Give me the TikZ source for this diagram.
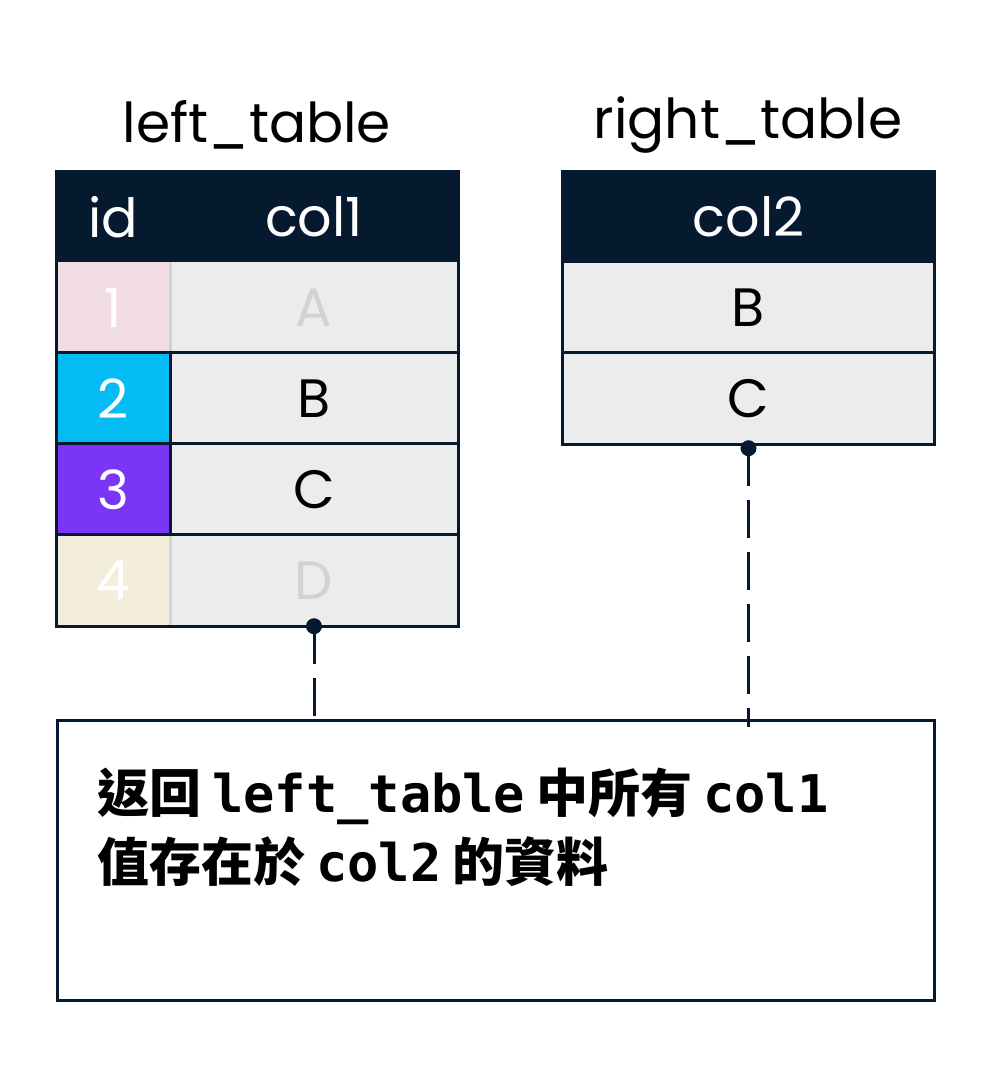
\documentclass[tikz,border=0pt]{standalone}
\usepackage{fontspec}
\setmainfont{Poppins}
\newfontfamily\cjk{Noto Sans CJK TC}
\newfontfamily\code{DejaVu Sans Mono}
\definecolor{navy}{HTML}{051A2E}
\definecolor{cellgray}{HTML}{ECECEC}
\definecolor{pinkfade}{HTML}{F2DDE4}
\definecolor{beigefade}{HTML}{F3EDDC}
\definecolor{idcyan}{HTML}{03BCF4}
\definecolor{idpurple}{HTML}{7B35F7}
\definecolor{fadetext}{HTML}{D2D2D2}

\begin{document}
\begin{tikzpicture}[x=1pt,y=-1pt,
  title/.style={font=\fontsize{55}{66}\selectfont},
  head/.style={fill=navy,text=white,inner sep=0pt,minimum height=91pt,font=\fontsize{54}{64}\selectfont},
  cell/.style={fill=cellgray,inner sep=0pt,minimum height=91pt,font=\fontsize{54}{64}\selectfont},
  tabline/.style={draw=navy,line width=3pt},
  faintline/.style={draw=fadetext,line width=3pt},
  link/.style={draw=navy,line width=3pt,dash pattern=on 38pt off 14pt}]
\useasboundingbox[fill=white] (0,0) rectangle (992,1080);

% titles
\node[title] (ltitle) at (257,125) {left\_table};
\node[title] (rtitle) at (748,125) {right\_table};

% left table
\node[head,minimum width=113pt] (lid) at (113.5,217) {id};
\node[head,minimum width=288pt] (lcol) at (314,217) {col1};
\node[cell,fill=pinkfade,text=white,minimum width=113pt] (id1) at (113.5,307.5) {1};
\node[cell,text=fadetext,minimum width=288pt] (c1) at (314,307.5) {A};
\node[cell,fill=idcyan,text=white,minimum width=113pt] (id2) at (113.5,398.5) {2};
\node[cell,minimum width=288pt] (c2) at (314,398.5) {B};
\node[cell,fill=idpurple,text=white,minimum width=113pt] (id3) at (113.5,489.5) {3};
\node[cell,minimum width=288pt] (c3) at (314,489.5) {C};
\node[cell,fill=beigefade,text=white,minimum width=113pt] (id4) at (113.5,580.5) {4};
\node[cell,text=fadetext,minimum width=288pt] (c4) at (314,580.5) {D};

\draw[faintline] (id1.north east) -- (id1.south east);
\draw[faintline] (id4.north east) -- (id4.south east);
\draw[tabline] (id2.north east) -- (id3.south east);
\draw[tabline] (id2.north west) -- (c2.north east);
\draw[tabline] (id3.north west) -- (c3.north east);
\draw[tabline] (id4.north west) -- (c4.north east);
\draw[tabline] (lid.north west) rectangle (c4.south east);

% right table
\node[head,minimum width=371pt] (rcol) at (748.5,217) {col2};
\node[cell,minimum width=371pt] (r1) at (748.5,307.5) {B};
\node[cell,minimum width=371pt] (r2) at (748.5,398.5) {C};
\draw[tabline] (r1.north west) -- (r1.north east);
\draw[tabline] (r2.north west) -- (r2.north east);
\draw[tabline] (rcol.north west) rectangle (r2.south east);

% result box
\node[draw=navy,line width=3pt,minimum width=877pt,minimum height=280pt] (note) at (495.5,860) {};
\node[anchor=north west,align=left,inner sep=0pt,font=\fontsize{52}{69}\selectfont\bfseries] (msg) at (97,768)
  {{\cjk 返回} {\code left\_table} {\cjk 中所有} {\code col1}\\
   {\cjk 值存在於} {\code col2} {\cjk 的資料}};

% links
\coordinate (dotL) at (c4.south);
\coordinate (dotR) at ([yshift=-4pt]r2.south);
\fill[navy] (dotL) circle (8pt);
\fill[navy] (dotR) circle (8pt);
\draw[link] (dotL) -- ([yshift=-8pt]dotL |- note.north);
\draw[link] (dotR) -- ([yshift=-8pt]dotR |- note.north);
\end{tikzpicture}
\end{document}
